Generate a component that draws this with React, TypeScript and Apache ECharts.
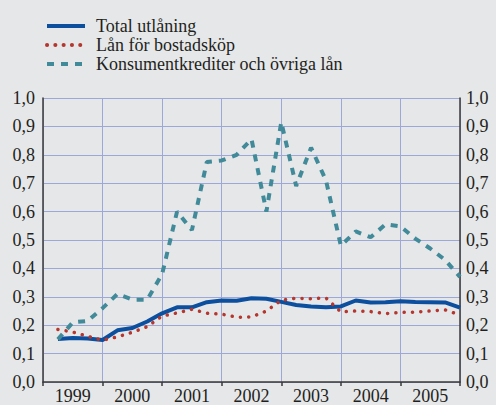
import React, { useEffect, useRef } from "react";
import * as echarts from "echarts";

const years = ["1999", "2000", "2001", "2002", "2003", "2004", "2005"];
const seriesNames = ["Total utlåning", "Lån för bostadsköp", "Konsumentkrediter och övriga lån"];
const yTicks = [0, 0.1, 0.2, 0.3, 0.4, 0.5, 0.6, 0.7, 0.8, 0.9, 1.0];

// Quarterly values, 1999 Q1 .. 2005 Q4
const totalUtlaning = [
  0.151, 0.155, 0.153, 0.148, 0.182, 0.19, 0.213, 0.242, 0.263, 0.263, 0.281, 0.287, 0.286, 0.295,
  0.293, 0.282, 0.271, 0.266, 0.263, 0.266, 0.287, 0.28, 0.281, 0.284, 0.282, 0.281, 0.28, 0.262,
];
const lanBostad = [
  0.185, 0.176, 0.161, 0.147, 0.159, 0.175, 0.195, 0.232, 0.243, 0.256, 0.242, 0.239, 0.228, 0.229,
  0.25, 0.288, 0.295, 0.293, 0.296, 0.247, 0.25, 0.248, 0.241, 0.245, 0.246, 0.25, 0.254, 0.236,
];
const konsument = [
  0.15, 0.21, 0.215, 0.26, 0.31, 0.29, 0.29, 0.38, 0.6, 0.535, 0.775, 0.78, 0.8, 0.855,
  0.6, 0.915, 0.69, 0.825, 0.71, 0.48, 0.53, 0.51, 0.555, 0.548, 0.505, 0.47, 0.43, 0.37,
];

const FONT = "Liberation Serif";
const TEXT = "#231f20";
const AXIS = "#3a3a3a";
const GRID = "#9ea8d8";

const fmt = (v: number) => v.toFixed(1).replace(".", ",");
const toPairs = (arr: number[]) => arr.map((v, i) => [i + 1, v]);

export default function App() {
  const ref = useRef<HTMLDivElement>(null);
  useEffect(() => {
    if (!ref.current) return;
    const chart = echarts.init(ref.current, undefined, { renderer: "svg" });
    const yAxisBase = {
      type: "value" as const,
      min: yTicks[0],
      max: yTicks[yTicks.length - 1],
      interval: 0.1,
      axisLine: { show: true, lineStyle: { color: AXIS, width: 1.5 } },
      axisTick: { show: false },
    };
    const labelStyle = { formatter: fmt, fontSize: 18, color: TEXT, fontFamily: FONT };
    chart.setOption({
      animation: false,
      backgroundColor: "#e6e7e9",
      textStyle: { fontFamily: FONT },
      legend: {
        orient: "vertical",
        left: 40,
        top: 12,
        itemWidth: 38,
        itemHeight: 14,
        itemGap: 1,
        data: seriesNames,
        itemStyle: { opacity: 0 },
        lineStyle: { width: 4 },
        textStyle: { fontSize: 18, color: TEXT, fontFamily: FONT, lineHeight: 18, padding: [0, 0, 0, 6] },
      },
      grid: { left: 43, right: 36, top: 98, bottom: 21 },
      xAxis: [
        { type: "value", min: 0, max: 28, show: false },
        {
          type: "category",
          data: years,
          boundaryGap: true,
          position: "bottom",
          axisLine: { show: true, lineStyle: { color: AXIS, width: 1.5 } },
          axisTick: { show: true, length: 4, lineStyle: { color: AXIS, width: 1.5 } },
          axisLabel: { fontSize: 18, color: TEXT, fontFamily: FONT, margin: 5 },
          splitLine: { show: true, lineStyle: { color: GRID, width: 1 } },
        },
      ],
      yAxis: [
        {
          ...yAxisBase,
          position: "left",
          axisLabel: { ...labelStyle, margin: 8 },
          splitLine: { show: true, lineStyle: { color: GRID, width: 1 } },
        },
        {
          ...yAxisBase,
          position: "right",
          axisLabel: { ...labelStyle, margin: 6 },
          splitLine: { show: false },
        },
      ],
      series: [
        {
          name: seriesNames[0],
          type: "line",
          xAxisIndex: 0,
          data: toPairs(totalUtlaning),
          showSymbol: false,
          symbol: "none",
          lineStyle: { color: "#0b4f9e", width: 4 },
          itemStyle: { color: "#0b4f9e" },
        },
        {
          name: seriesNames[1],
          type: "line",
          xAxisIndex: 0,
          data: toPairs(lanBostad),
          showSymbol: false,
          symbol: "none",
          lineStyle: { color: "#b5362e", width: 3.5, type: [0.1, 8.2], cap: "round" },
          itemStyle: { color: "#b5362e" },
        },
        {
          name: seriesNames[2],
          type: "line",
          xAxisIndex: 0,
          data: toPairs(konsument),
          showSymbol: false,
          symbol: "none",
          lineStyle: { color: "#418a99", width: 4, type: [7, 7] },
          itemStyle: { color: "#418a99" },
        },
      ],
    });
    return () => chart.dispose();
  }, []);
  return <div ref={ref} style={{ position: "absolute", left: 0, top: 0, width: 496, height: 405 }} />;
}
